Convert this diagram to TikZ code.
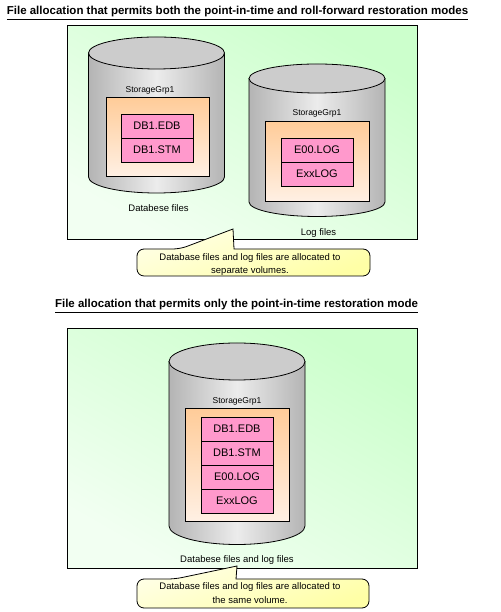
\documentclass[tikz,border=0pt]{standalone}
\usepackage{fontspec}
\setmainfont{Liberation Sans}
\usetikzlibrary{positioning}

\definecolor{panelgreen}{HTML}{CCFFCC}
\definecolor{panellight}{HTML}{F2FFF2}
\definecolor{drumedge}{HTML}{B4B4B4}
\definecolor{drummid}{HTML}{ECECEC}
\definecolor{drumlid}{HTML}{CCCCCC}
\definecolor{binorange}{HTML}{FFCC99}
\definecolor{binpeach}{HTML}{FFF0E4}
\definecolor{filepink}{HTML}{FF99CC}
\definecolor{notelight}{HTML}{FFFFE6}
\definecolor{noteyellow}{HTML}{FFFFA6}

\begin{document}
\begin{tikzpicture}[
  x=1pt, y=1pt,
  line width=0.8pt,
  title/.style={font=\fontsize{11.5}{13}\selectfont\bfseries, inner sep=0pt, anchor=base},
  panel/.style={draw, anchor=south west, inner sep=0pt, minimum width=350pt,
    top color=panelgreen, bottom color=panellight, shading angle=-30},
  drumside/.style={draw, left color=drumedge, right color=drumedge, middle color=drummid},
  drumtop/.style={draw, fill=drumlid},
  bin/.style={draw, anchor=south west, inner sep=0pt, top color=binorange, bottom color=binpeach},
  file/.style={draw, fill=filepink, minimum width=72pt, minimum height=24pt,
    inner sep=0pt, outer sep=0pt, font=\fontsize{11}{12}\selectfont},
  grp/.style={inner sep=0pt, font=\fontsize{8.5}{10}\selectfont},
  volcap/.style={inner sep=0pt, font=\fontsize{9.5}{11}\selectfont},
  note/.style={draw, top color=notelight, bottom color=noteyellow, shading angle=20},
  notetext/.style={inner sep=0pt, align=center, font=\fontsize{9.5}{13.5}\selectfont}
]
\useasboundingbox (0,0) rectangle (500,612);

% titles
\node[title] (titleA) at (237.5,597) {\underline{File allocation that permits both the point-in-time and roll-forward restoration modes}};
\node[title] (titleB) at (236.5,304) {\underline{File allocation that permits only the point-in-time restoration mode}};

% green panels
\node[panel, minimum height=214pt] (panelA) at (67,372) {};
\node[panel, minimum height=240pt] (panelB) at (67,43) {};

% volumes
\foreach \cx/\ytop/\ybot/\ry in {156.5/559/435/16, 317/533.5/410/14.5, 237/250.5/86/18.5}{
  \draw[drumside] (\cx-68,\ytop) -- (\cx-68,\ybot)
    arc[start angle=180, end angle=360, x radius=68, y radius=\ry] -- (\cx+68,\ytop) -- cycle;
  \draw[drumtop] (\cx,\ytop) ellipse[x radius=68, y radius=\ry];
}

% database files, separate volume
\node[grp] (grpA) at (150,522) {StorageGrp1};
\node[bin, minimum width=103pt, minimum height=79pt] (binA) at (106,435) {};
\node[file] (edbA) at (157,486) {DB1.EDB};
\node[file, below=0pt of edbA] (stmA) {DB1.STM};
\node[volcap] (capA) at (158.5,404) {Databese files};

% log files, separate volume
\node[grp] (grpB) at (317,499) {StorageGrp1};
\node[bin, minimum width=104pt, minimum height=80pt] (binB) at (265,410) {};
\node[file] (logB) at (317,462) {E00.LOG};
\node[file, below=0pt of logB] (xxB) {ExxLOG};
\node[volcap] (capB) at (318.5,379) {Log files};

% everything on one volume
\node[grp] (grpC) at (237,211) {StorageGrp1};
\node[bin, minimum width=104pt, minimum height=113pt] (binC) at (185,90) {};
\node[file] (edbC) at (237,183) {DB1.EDB};
\node[file, below=0pt of edbC] (stmC) {DB1.STM};
\node[file, below=0pt of stmC] (logC) {E00.LOG};
\node[file, below=0pt of logC] (xxC) {ExxLOG};
\node[volcap] (capC) at (237,52) {Databese files and log files};

% callouts
\draw[note] (137,350) [rounded corners=7pt] -- (137,363) -- (180,363) [sharp corners] -- (233,383)
  -- (234,363) [rounded corners=7pt] -- (370,363) -- (370,336) -- (137,336) -- cycle;
\node[notetext] (noteA) at (250,347.5) {Database files and log files are allocated to\\separate volumes.};

\draw[note] (137,20) [rounded corners=7pt] -- (137,33) -- (175,33) [sharp corners] -- (237,46)
  -- (236,33) [rounded corners=7pt] -- (369,33) -- (369,4) -- (137,4) -- cycle;
\node[notetext] (noteB) at (250,19) {Database files and log files are allocated to\\the same volume.};
\end{tikzpicture}
\end{document}
